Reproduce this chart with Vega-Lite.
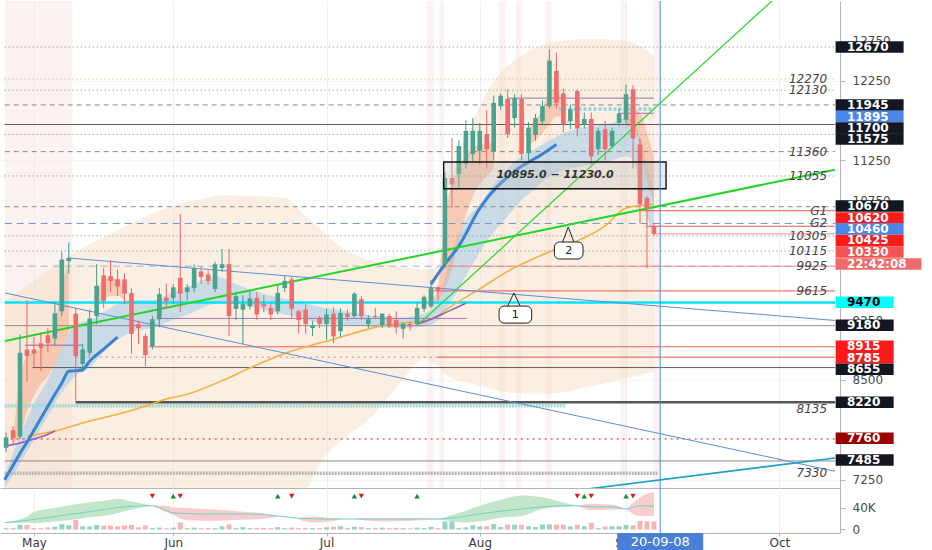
{
"$schema": "https://vega.github.io/schema/vega-lite/v6.json",
"padding": 0,
"spacing": 0,
"bounds": "flush",
"background": "white",
"config": {"view": {"stroke": null}, "axis": {"labelFont": "DejaVu Sans"}, "text": {"font": "DejaVu Sans"}},
"resolve": {"scale": {"x": "independent", "y": "independent"}, "axis": {"x": "independent", "y": "independent"}},
"datasets": {
"candles": [
{"i":-4,"o":7650,"h":7840,"l":7600,"c":7780},{"i":-3,"o":7870,"h":7920,"l":7700,"c":7770},{"i":-2,"o":7790,"h":9070,"l":7760,"c":8840},{"i":-1,"o":8880,"h":9500,"l":8480,"c":8800},
{"i":0,"o":8880,"h":9040,"l":8650,"c":8830},{"i":1,"o":8960,"h":9100,"l":8610,"c":8900},{"i":2,"o":9060,"h":9150,"l":8850,"c":8960},{"i":3,"o":9020,"h":9480,"l":8930,"c":9335},
{"i":4,"o":9360,"h":10100,"l":9300,"c":10010},{"i":5,"o":9990,"h":10220,"l":9830,"c":10030},{"i":6,"o":9330,"h":9400,"l":8220,"c":8800},{"i":7,"o":8700,"h":8950,"l":8600,"c":8880},
{"i":8,"o":8840,"h":9380,"l":8800,"c":9270},{"i":9,"o":9300,"h":9950,"l":9200,"c":9680},{"i":10,"o":9810,"h":9900,"l":9400,"c":9490},{"i":11,"o":9800,"h":10000,"l":9600,"c":9740},
{"i":12,"o":9760,"h":9880,"l":9550,"c":9670},{"i":13,"o":9760,"h":9830,"l":9450,"c":9580},{"i":14,"o":9590,"h":9650,"l":8830,"c":9075},{"i":15,"o":9200,"h":9240,"l":8950,"c":9150},
{"i":16,"o":9050,"h":9080,"l":8670,"c":8810},{"i":17,"o":8925,"h":9300,"l":8880,"c":9260},{"i":18,"o":9260,"h":9650,"l":9160,"c":9575},{"i":19,"o":9530,"h":9710,"l":9400,"c":9490},
{"i":20,"o":9530,"h":9700,"l":9450,"c":9660},{"i":21,"o":9780,"h":10580,"l":9350,"c":9580},{"i":22,"o":9600,"h":9700,"l":9500,"c":9660},{"i":23,"o":9650,"h":9950,"l":9600,"c":9900},
{"i":24,"o":9860,"h":9920,"l":9700,"c":9790},{"i":25,"o":9820,"h":9870,"l":9700,"c":9740},{"i":26,"o":9640,"h":9980,"l":9600,"c":9950},{"i":27,"o":9900,"h":10140,"l":9850,"c":9950},
{"i":28,"o":9950,"h":10140,"l":9050,"c":9300},{"i":29,"o":9390,"h":9600,"l":9250,"c":9550},{"i":30,"o":9380,"h":9560,"l":8950,"c":9450},{"i":31,"o":9420,"h":9620,"l":9380,"c":9520},
{"i":32,"o":9530,"h":9600,"l":9250,"c":9320},{"i":33,"o":9450,"h":9560,"l":9350,"c":9420},{"i":34,"o":9400,"h":9460,"l":9250,"c":9320},{"i":35,"o":9360,"h":9700,"l":9320,"c":9590},
{"i":36,"o":9650,"h":9800,"l":9600,"c":9740},{"i":37,"o":9760,"h":9800,"l":9280,"c":9390},{"i":38,"o":9360,"h":9380,"l":9080,"c":9250},{"i":39,"o":9380,"h":9450,"l":9080,"c":9200},
{"i":40,"o":9150,"h":9240,"l":9050,"c":9180},{"i":41,"o":9280,"h":9300,"l":9150,"c":9200},{"i":42,"o":9200,"h":9390,"l":9000,"c":9320},{"i":43,"o":9330,"h":9410,"l":8960,"c":9045},
{"i":44,"o":9110,"h":9400,"l":9040,"c":9340},{"i":45,"o":9330,"h":9380,"l":9240,"c":9290},{"i":46,"o":9300,"h":9600,"l":9280,"c":9580},{"i":47,"o":9510,"h":9550,"l":9250,"c":9300},
{"i":48,"o":9200,"h":9310,"l":9150,"c":9260},{"i":49,"o":9300,"h":9400,"l":9260,"c":9290},{"i":50,"o":9180,"h":9330,"l":9150,"c":9330},{"i":51,"o":9300,"h":9330,"l":9150,"c":9170},
{"i":52,"o":9250,"h":9360,"l":9080,"c":9160},{"i":53,"o":9140,"h":9220,"l":9020,"c":9200},{"i":54,"o":9200,"h":9230,"l":9120,"c":9170},{"i":55,"o":9200,"h":9470,"l":9180,"c":9400},
{"i":56,"o":9390,"h":9560,"l":9350,"c":9540},{"i":57,"o":9420,"h":9750,"l":9400,"c":9650},{"i":58,"o":9660,"h":9680,"l":9500,"c":9620},{"i":59,"o":9950,"h":11100,"l":9900,"c":11030},
{"i":60,"o":11030,"h":11530,"l":10650,"c":10950},{"i":61,"o":11080,"h":11500,"l":10900,"c":11430},{"i":62,"o":11210,"h":11750,"l":11150,"c":11620},{"i":63,"o":11330,"h":11780,"l":11240,"c":11620},
{"i":64,"o":11370,"h":11720,"l":11200,"c":11620},{"i":65,"o":11580,"h":11880,"l":11150,"c":11390},{"i":66,"o":11360,"h":12060,"l":11250,"c":11970},{"i":67,"o":11930,"h":12090,"l":11880,"c":12060},
{"i":68,"o":12020,"h":12140,"l":11530,"c":11580},{"i":69,"o":11780,"h":12080,"l":11660,"c":12030},{"i":70,"o":12020,"h":12080,"l":11250,"c":11330},{"i":71,"o":11340,"h":11730,"l":11250,"c":11660},
{"i":72,"o":11570,"h":11830,"l":11500,"c":11780},{"i":73,"o":11740,"h":12000,"l":11700,"c":11930},{"i":74,"o":11930,"h":12640,"l":11900,"c":12500},{"i":75,"o":12370,"h":12600,"l":11900,"c":11970},
{"i":76,"o":12090,"h":12150,"l":11600,"c":11700},{"i":77,"o":11740,"h":11950,"l":11640,"c":11890},{"i":78,"o":12120,"h":12140,"l":11550,"c":11650},{"i":79,"o":11700,"h":11850,"l":11650,"c":11770},
{"i":80,"o":11770,"h":11850,"l":11200,"c":11300},{"i":81,"o":11390,"h":11660,"l":11320,"c":11620},{"i":82,"o":11640,"h":11740,"l":11250,"c":11390},{"i":83,"o":11430,"h":11660,"l":11400,"c":11620},
{"i":84,"o":11720,"h":11900,"l":11680,"c":11840},{"i":85,"o":11760,"h":12200,"l":11700,"c":12080},{"i":86,"o":12140,"h":12190,"l":11150,"c":11525},{"i":87,"o":11450,"h":11520,"l":10460,"c":10700},
{"i":88,"o":10780,"h":10800,"l":9900,"c":10650},{"i":89,"o":10425,"h":10460,"l":10300,"c":10330}
],
"vol": [
{"i":-4,"v":2.5,"d":"u"},{"i":-3,"v":3,"d":"d"},{"i":-2,"v":8.5,"d":"u"},{"i":-1,"v":8.5,"d":"d"},{"i":0,"v":2.5,"d":"d"},{"i":1,"v":2.5,"d":"d"},{"i":2,"v":4,"d":"d"},{"i":3,"v":5,"d":"u"},
{"i":4,"v":10,"d":"u"},{"i":5,"v":8,"d":"u"},{"i":6,"v":18,"d":"d"},{"i":7,"v":6,"d":"u"},{"i":8,"v":5.5,"d":"u"},{"i":9,"v":8.5,"d":"u"},{"i":10,"v":7,"d":"d"},{"i":11,"v":7,"d":"d"},
{"i":12,"v":6,"d":"d"},{"i":13,"v":7.5,"d":"d"},{"i":14,"v":8.5,"d":"d"},{"i":15,"v":4,"d":"d"},{"i":16,"v":7.5,"d":"d"},{"i":17,"v":2.5,"d":"u"},{"i":18,"v":3.5,"d":"u"},{"i":19,"v":2,"d":"d"},
{"i":20,"v":3.5,"d":"u"},{"i":21,"v":13,"d":"d"},{"i":22,"v":2.5,"d":"u"},{"i":23,"v":3.5,"d":"u"},{"i":24,"v":2.5,"d":"d"},{"i":25,"v":3,"d":"d"},{"i":26,"v":2.5,"d":"u"},{"i":27,"v":6,"d":"u"},
{"i":28,"v":9.5,"d":"d"},{"i":29,"v":2.5,"d":"u"},{"i":30,"v":4.5,"d":"u"},{"i":31,"v":2.5,"d":"u"},{"i":32,"v":3,"d":"d"},{"i":33,"v":3,"d":"d"},{"i":34,"v":2.5,"d":"d"},{"i":35,"v":4.5,"d":"u"},
{"i":36,"v":2.5,"d":"u"},{"i":37,"v":3.5,"d":"d"},{"i":38,"v":2.5,"d":"d"},{"i":39,"v":3,"d":"d"},{"i":40,"v":2.5,"d":"u"},{"i":41,"v":2.5,"d":"d"},{"i":42,"v":4,"d":"u"},{"i":43,"v":5,"d":"d"},
{"i":44,"v":6,"d":"u"},{"i":45,"v":3,"d":"d"},{"i":46,"v":5,"d":"u"},{"i":47,"v":4.5,"d":"d"},{"i":48,"v":2.5,"d":"u"},{"i":49,"v":3,"d":"d"},{"i":50,"v":3.5,"d":"u"},{"i":51,"v":2.5,"d":"d"},
{"i":52,"v":3,"d":"d"},{"i":53,"v":2.5,"d":"u"},{"i":54,"v":2,"d":"d"},{"i":55,"v":3.5,"d":"u"},{"i":56,"v":2.5,"d":"u"},{"i":57,"v":5,"d":"u"},{"i":58,"v":2.5,"d":"d"},{"i":59,"v":15,"d":"u"},
{"i":60,"v":15,"d":"u"},{"i":61,"v":3,"d":"u"},{"i":62,"v":4,"d":"u"},{"i":63,"v":8,"d":"u"},{"i":64,"v":5.5,"d":"u"},{"i":65,"v":6,"d":"d"},{"i":66,"v":10,"d":"u"},{"i":67,"v":4.5,"d":"u"},
{"i":68,"v":9,"d":"d"},{"i":69,"v":9,"d":"u"},{"i":70,"v":9,"d":"d"},{"i":71,"v":6,"d":"u"},{"i":72,"v":4.5,"d":"u"},{"i":73,"v":9,"d":"u"},{"i":74,"v":9.5,"d":"u"},{"i":75,"v":9,"d":"d"},
{"i":76,"v":9,"d":"d"},{"i":77,"v":5.5,"d":"u"},{"i":78,"v":8.5,"d":"d"},{"i":79,"v":6,"d":"u"},{"i":80,"v":12.5,"d":"d"},{"i":81,"v":2.5,"d":"u"},{"i":82,"v":5.5,"d":"d"},{"i":83,"v":6,"d":"u"},
{"i":84,"v":6,"d":"u"},{"i":85,"v":8.5,"d":"u"},{"i":86,"v":8,"d":"d"},{"i":87,"v":16,"d":"d"},{"i":88,"v":15,"d":"d"},{"i":89,"v":15,"d":"d"}
],
"beige": [
{"i":-4.2,"lo":7146,"hi":9490},{"i":0,"lo":7146,"hi":9740},{"i":5,"lo":7146,"hi":10050},{"i":11,"lo":7146,"hi":10330},{"i":20,"lo":7146,"hi":10680},{"i":24,"lo":7146,"hi":10765},
{"i":27,"lo":7146,"hi":10815},{"i":36,"lo":7146,"hi":10780},{"i":39,"lo":7146,"hi":10550},{"i":41,"lo":7450,"hi":10400},{"i":45,"lo":7800,"hi":10110},{"i":48,"lo":8000,"hi":10000},
{"i":52,"lo":8400,"hi":9930},{"i":56.4,"lo":8770,"hi":9880},{"i":58,"lo":8650,"hi":9930},{"i":60,"lo":8520,"hi":10990},{"i":63,"lo":8450,"hi":11740},{"i":66,"lo":8380,"hi":12240},
{"i":70,"lo":8330,"hi":12560},{"i":74,"lo":8330,"hi":12720},{"i":80,"lo":8420,"hi":12770},{"i":85,"lo":8520,"hi":12745},{"i":89,"lo":8610,"hi":12560}
],
"blueband": [
{"i":-4.2,"lo":7146,"hi":7300},{"i":-2,"lo":7450,"hi":7800},{"i":0,"lo":7750,"hi":8200},{"i":2,"lo":8050,"hi":8500},{"i":4,"lo":8350,"hi":8900},{"i":6,"lo":8550,"hi":9200},
{"i":8,"lo":8650,"hi":9250},{"i":10,"lo":8850,"hi":9350},{"i":12,"lo":9000,"hi":9450},{"i":14,"lo":9100,"hi":9500},{"i":17,"lo":9150,"hi":9500},{"i":20,"lo":9250,"hi":9600},
{"i":23,"lo":9350,"hi":9700},{"i":26,"lo":9450,"hi":9800},{"i":29,"lo":9450,"hi":9700},{"i":33,"lo":9380,"hi":9580},{"i":37,"lo":9300,"hi":9500},{"i":42,"lo":9200,"hi":9400},
{"i":47,"lo":9180,"hi":9330},{"i":52,"lo":9150,"hi":9280},{"i":56,"lo":9170,"hi":9330},{"i":58,"lo":9250,"hi":9500},{"i":60,"lo":9500,"hi":10100},{"i":62,"lo":9800,"hi":10500},
{"i":64,"lo":10100,"hi":10700},{"i":66,"lo":10350,"hi":10950},{"i":68,"lo":10550,"hi":11150},{"i":70,"lo":10750,"hi":11300},{"i":72,"lo":10900,"hi":11400},{"i":74,"lo":11050,"hi":11500},
{"i":77,"lo":11150,"hi":11620},{"i":80,"lo":11200,"hi":11680},{"i":83,"lo":11250,"hi":11720},{"i":85,"lo":11300,"hi":11780},{"i":86,"lo":11250,"hi":11750},{"i":87,"lo":10950,"hi":11550},
{"i":88,"lo":10550,"hi":11200},{"i":89,"lo":10350,"hi":10850}
],
"salmon": [
{"g":"A","i":-3,"lo":7720,"hi":7760},{"g":"A","i":-2,"lo":7800,"hi":8500},{"g":"A","i":-1,"lo":8100,"hi":8800},{"g":"A","i":0,"lo":8300,"hi":8850},{"g":"A","i":1,"lo":8450,"hi":8900},
{"g":"A","i":2,"lo":8550,"hi":8950},{"g":"A","i":3,"lo":8700,"hi":9200},{"g":"A","i":4,"lo":8900,"hi":9700},{"g":"A","i":5,"lo":9100,"hi":9950},
{"g":"B","i":9,"lo":9400,"hi":9600},{"g":"B","i":10,"lo":9500,"hi":9750},{"g":"B","i":11,"lo":9550,"hi":9780},{"g":"B","i":12,"lo":9550,"hi":9750},{"g":"B","i":13,"lo":9500,"hi":9650},
{"g":"C","i":57,"lo":9400,"hi":9500},{"g":"C","i":58,"lo":9500,"hi":9650},{"g":"C","i":59,"lo":9650,"hi":10600},{"g":"C","i":60,"lo":9900,"hi":10950},{"g":"C","i":61,"lo":10250,"hi":11150},
{"g":"C","i":62,"lo":10550,"hi":11300},{"g":"C","i":63,"lo":10800,"hi":11400},{"g":"C","i":64,"lo":10950,"hi":11450},{"g":"C","i":65,"lo":11050,"hi":11450},{"g":"C","i":66,"lo":11150,"hi":11500},
{"g":"D","i":71,"lo":11450,"hi":11650},{"g":"D","i":72,"lo":11500,"hi":11750},{"g":"D","i":73,"lo":11600,"hi":11900},{"g":"D","i":74,"lo":11700,"hi":12100},{"g":"D","i":75,"lo":11800,"hi":12150},{"g":"D","i":76,"lo":11800,"hi":11950},
{"g":"E","i":85,"lo":11650,"hi":11800},{"g":"E","i":86,"lo":11700,"hi":11900},{"g":"E","i":87,"lo":11400,"hi":11850},{"g":"E","i":88,"lo":11000,"hi":11600},{"g":"E","i":89,"lo":10700,"hi":11300}
],
"stripes": [{"a":-4.2,"b":5.5},{"a":56.4,"b":57.4},{"a":58.2,"b":58.9},{"a":66.8,"b":67.6},{"a":69.2,"b":69.9},{"a":73.5,"b":74.3},{"a":84.2,"b":85.1},{"a":88.9,"b":90}],
"bluethick": [
{"g":"a","i":-4.2,"v":7250},{"g":"a","i":-4,"v":7280},{"g":"a","i":-3,"v":7430},{"g":"a","i":-2,"v":7580},{"g":"a","i":-1,"v":7720},{"g":"a","i":0,"v":7870},{"g":"a","i":1,"v":8020},
{"g":"a","i":2,"v":8170},{"g":"a","i":3,"v":8320},{"g":"a","i":4,"v":8460},{"g":"a","i":5,"v":8610},{"g":"a","i":6,"v":8615},{"g":"a","i":7,"v":8630},{"g":"a","i":8,"v":8735},
{"g":"a","i":10,"v":8885},{"g":"a","i":12,"v":9035},
{"g":"b","i":57,"v":9700},{"g":"b","i":59,"v":9950},{"g":"b","i":61,"v":10180},{"g":"b","i":64,"v":10650},{"g":"b","i":69,"v":11115},{"g":"b","i":73,"v":11330},{"g":"b","i":75,"v":11450}
],
"orangema": [
{"i":-1,"v":7795},{"i":3,"v":7860},{"i":8,"v":7985},{"i":12,"v":8070},{"i":16,"v":8170},{"i":19,"v":8260},{"i":22,"v":8320},{"i":27,"v":8490},{"i":31,"v":8650},
{"i":36,"v":8830},{"i":43,"v":9010},{"i":50,"v":9180},{"i":57,"v":9260},{"i":60,"v":9430},{"i":64,"v":9640},{"i":68,"v":9860},{"i":71,"v":9990},{"i":75,"v":10140},
{"i":78,"v":10240},{"i":82,"v":10430},{"i":85,"v":10655},{"i":89,"v":10700}
],
"purplema": [
{"g":"a","i":-4.2,"v":7670},{"g":"a","i":-2,"v":7710},{"g":"a","i":0,"v":7760},{"g":"a","i":2,"v":7820},{"g":"a","i":3,"v":7860},
{"g":"b","i":55,"v":9200},{"g":"b","i":57,"v":9260},{"g":"b","i":59,"v":9340},{"g":"b","i":61,"v":9420},{"g":"b","i":62,"v":9460}
],
"levels": [
{"p":12670,"a":-4.2,"b":115,"s":"dotGray"},{"p":12270,"a":-4.2,"b":115,"s":"dotOrange"},{"p":12130,"a":-4.2,"b":115,"s":"dotGreen"},{"p":12030,"a":68,"b":89,"s":"purple"},
{"p":11945,"a":-4.2,"b":115,"s":"dashGray"},{"p":11895,"a":75.3,"b":89,"s":"dashBlueThick"},{"p":11840,"a":84,"b":89,"s":"magenta"},{"p":11700,"a":-4.2,"b":115,"s":"solidBlack"},{"p":11575,"a":-4.2,"b":115,"s":"dotGray"},
{"p":11360,"a":-4.2,"b":115,"s":"dashGray"},{"p":11055,"a":-4.2,"b":115,"s":"dotGreen"},{"p":10670,"a":-4.2,"b":115,"s":"dashGray"},{"p":10620,"a":87,"b":115,"s":"solidRed"},
{"p":10460,"a":-4.2,"b":115,"s":"dashBlue"},{"p":10425,"a":88,"b":115,"s":"solidRed"},{"p":10330,"a":89,"b":115,"s":"lightRed"},{"p":10305,"a":-4.2,"b":115,"s":"dotGray"},
{"p":10115,"a":-4.2,"b":115,"s":"dotGreen"},{"p":9925,"a":-4.2,"b":115,"s":"dashLightBlue"},{"p":9925,"a":59,"b":115,"s":"lightRed"},{"p":9615,"a":57,"b":115,"s":"solidRed"},
{"p":9470,"a":-4.2,"b":115,"s":"cyan"},{"p":9270,"a":17.6,"b":62.1,"s":"purple"},{"p":9180,"a":-4.2,"b":115,"s":"solidGray"},{"p":8935,"a":-1.3,"b":6.9,"s":"purple"},
{"p":8915,"a":16.5,"b":115,"s":"solidRed"},{"p":8785,"a":6,"b":58,"s":"dotRed"},{"p":8785,"a":58,"b":115,"s":"solidRed"},{"p":8655,"a":-0.2,"b":115,"s":"solidBlack"},
{"p":8220,"a":6,"b":115,"s":"thickGray"},{"p":8175,"a":-4.2,"b":76.4,"s":"bandTeal"},{"p":7760,"a":-4.2,"b":115,"s":"dotDarkRed"},{"p":7485,"a":-4.2,"b":115,"s":"solidGray"},
{"p":7330,"a":-4.2,"b":89.5,"s":"bandGray"}
],
"trends": [
{"t":"g1","k":0,"i":-4.156,"p":8988},{"t":"g1","k":1,"i":114.99,"p":11133},
{"t":"g2","k":0,"i":55.42,"p":9213},{"t":"g2","k":1,"i":109.3,"p":13516},
{"t":"b1","k":0,"i":4.92,"p":10027},{"t":"b1","k":1,"i":114.99,"p":9245},
{"t":"b2","k":0,"i":-4.156,"p":9589},{"t":"b2","k":1,"i":114.99,"p":7356},
{"t":"tl","k":0,"i":79.5,"p":7134},{"t":"tl","k":1,"i":114.99,"p":7522}
],
"zone": [{"a":58.82,"b":90.74,"lo":10895,"hi":11230,"m":74.8,"mp":11062,"t":"10895.0 − 11230.0"}],
"callouts": [{"n":"1","a":66.77,"b":71.45,"lo":9212,"hi":9425,"cx":69.1,"cy":9318},{"n":"2","a":74.71,"b":78.82,"lo":10015,"hi":10228,"cx":76.76,"cy":10121}],
"pointers": [
{"n":"1","k":0,"i":68.0,"p":9425},{"n":"1","k":1,"i":68.9,"p":9590},{"n":"1","k":2,"i":69.8,"p":9425},
{"n":"2","k":0,"i":75.9,"p":10228},{"n":"2","k":1,"i":76.7,"p":10416},{"n":"2","k":2,"i":77.5,"p":10228}
],
"notes": [
{"p":12270,"t":"12270"},{"p":12130,"t":"12130"},{"p":11360,"t":"11360"},{"p":11055,"t":"11055"},{"p":10620,"t":"G1"},{"p":10460,"t":"G2"},
{"p":10305,"t":"10305"},{"p":10115,"t":"10115"},{"p":9925,"t":"9925"},{"p":9615,"t":"9615"},{"p":8135,"t":"8135"},{"p":7330,"t":"7330"}
],
"tags": [
{"at":12670,"label":"12670","k":"black"},{"at":11945,"label":"11945","k":"black"},{"at":11800,"label":"11895","k":"blue"},{"at":11656,"label":"11700","k":"black"},
{"at":11518,"label":"11575","k":"black"},{"at":10679,"label":"10670","k":"black"},{"at":10528,"label":"10620","k":"red"},{"at":10390,"label":"10460","k":"blue"},
{"at":10247,"label":"10425","k":"red"},{"at":10103,"label":"10330","k":"lightred"},{"at":9952,"label":"22:42:08","k":"count"},{"at":9472,"label":"9470","k":"cyan"},
{"at":9185,"label":"9180","k":"black"},{"at":8921,"label":"8915","k":"red"},{"at":8779,"label":"8785","k":"red"},{"at":8633,"label":"8655","k":"black"},
{"at":8220,"label":"8220","k":"black"},{"at":7769,"label":"7760","k":"darkred"},{"at":7497,"label":"7485","k":"black"}
],
"cursor": [{"i":89.9,"t":"20-09-08"}],
"cloud": [
{"g":"g1","c":"g","i":-4.2,"lo":12,"hi":13.5},{"g":"g1","c":"g","i":-1,"lo":13,"hi":24},{"g":"g1","c":"g","i":0,"lo":12,"hi":33},{"g":"g1","c":"g","i":3,"lo":15,"hi":40},
{"g":"g1","c":"g","i":6,"lo":19,"hi":47},{"g":"g1","c":"g","i":9,"lo":24,"hi":52},{"g":"g1","c":"g","i":10,"lo":25,"hi":53},{"g":"g1","c":"g","i":12,"lo":30,"hi":57},
{"g":"g1","c":"g","i":14,"lo":37,"hi":52},{"g":"g1","c":"g","i":16,"lo":42,"hi":47},{"g":"g1","c":"g","i":17,"lo":44,"hi":44},
{"g":"r1","c":"r","i":17,"lo":44,"hi":44},{"g":"r1","c":"r","i":19,"lo":32,"hi":44},{"g":"r1","c":"r","i":20,"lo":27,"hi":41},{"g":"r1","c":"r","i":22,"lo":17,"hi":40},
{"g":"r1","c":"r","i":26,"lo":16,"hi":37},{"g":"r1","c":"r","i":30,"lo":18,"hi":33},{"g":"r1","c":"r","i":33,"lo":20,"hi":30},{"g":"r1","c":"r","i":35,"lo":24,"hi":25},
{"g":"r2","c":"r","i":38,"lo":19,"hi":21},{"g":"r2","c":"r","i":40,"lo":13,"hi":24},{"g":"r2","c":"r","i":42,"lo":14,"hi":22},{"g":"r2","c":"r","i":44,"lo":18,"hi":21},
{"g":"r3","c":"r","i":46,"lo":19,"hi":20},{"g":"r3","c":"r","i":50,"lo":15,"hi":22},{"g":"r3","c":"r","i":54,"lo":16,"hi":21},{"g":"r3","c":"r","i":58,"lo":18.5,"hi":20},
{"g":"g2","c":"g","i":58,"lo":19.5,"hi":19.5},{"g":"g2","c":"g","i":60,"lo":15,"hi":27},{"g":"g2","c":"g","i":62,"lo":13,"hi":35},{"g":"g2","c":"g","i":64,"lo":15,"hi":44},
{"g":"g2","c":"g","i":67,"lo":22,"hi":55},{"g":"g2","c":"g","i":70,"lo":25,"hi":63},{"g":"g2","c":"g","i":73,"lo":38,"hi":60},{"g":"g2","c":"g","i":76,"lo":42,"hi":50},
{"g":"g2","c":"g","i":78,"lo":44,"hi":44},
{"g":"r4","c":"r","i":78,"lo":44,"hi":44},{"g":"r4","c":"r","i":80,"lo":36,"hi":48},{"g":"r4","c":"r","i":83,"lo":37,"hi":46},{"g":"r4","c":"r","i":85,"lo":38,"hi":38},
{"g":"r5","c":"r","i":85,"lo":38,"hi":38},{"g":"r5","c":"r","i":87,"lo":25,"hi":60},{"g":"r5","c":"r","i":89,"lo":25,"hi":70}
],
"cmid": [
{"i":-4.2,"v":12.6},{"i":-1,"v":17},{"i":2,"v":22},{"i":5,"v":28},{"i":8,"v":33},{"i":10,"v":37},{"i":13,"v":42},{"i":16,"v":44},{"i":17,"v":44},{"i":19,"v":35},
{"i":20,"v":31},{"i":24,"v":29},{"i":30,"v":29},{"i":35,"v":25},{"i":38,"v":21},{"i":42,"v":19.5},{"i":50,"v":19.5},{"i":58,"v":19.5},{"i":61,"v":23},{"i":64,"v":29},
{"i":67,"v":34},{"i":70,"v":38},{"i":73,"v":42},{"i":76,"v":44},{"i":78,"v":44},{"i":80,"v":42},{"i":83,"v":42},{"i":85,"v":38},{"i":87,"v":44},{"i":89,"v":43}
],
"marks": [
{"i":17,"t":"dn"},{"i":20,"t":"up"},{"i":21,"t":"dn"},{"i":35,"t":"up"},{"i":37,"t":"dn"},{"i":46,"t":"up"},{"i":47,"t":"dn"},{"i":55,"t":"up"},
{"i":78,"t":"dn"},{"i":79,"t":"up"},{"i":80,"t":"dn"},{"i":85,"t":"up"},{"i":86,"t":"dn"}
]
},
"vconcat": [
{
"width": 840, "height": 487,
"layer": [
{"data": {"name": "stripes"}, "mark": {"type": "rect", "clip": true, "color": "#f9dede", "opacity": 0.4},
 "encoding": {
  "x": {"field": "a", "type": "quantitative", "scale": {"domain": [-4.156, 114.993], "nice": false, "zero": false},
        "axis": {"values": [0,20,42,64,85,107], "labels": false, "ticks": false, "domain": true, "domainColor": "#b2b5be", "grid": true, "gridColor": "#edf0f5", "title": null}},
  "x2": {"field": "b"},
  "y": {"datum": 7146, "type": "quantitative", "scale": {"domain": [7146, 13247], "nice": false, "zero": false},
        "axis": {"orient": "right", "values": [7250,8000,8500,9000,9250,9750,10750,11000,11250,12000,12250,12500,12750,13000],
                 "format": "d", "title": null, "labelFontSize": 12, "labelColor": "#4a4a4a", "tickColor": "#b2b5be", "tickSize": 5, "labelPadding": 7,
                 "domainColor": "#b2b5be", "grid": true, "gridColor": "#f5f6f8", "labelOverlap": false}},
  "y2": {"datum": 13247}
 }},
{"data": {"name": "beige"}, "mark": {"type": "area", "clip": true, "color": "#f3d9b9", "opacity": 0.42, "interpolate": "monotone"},
 "encoding": {"x": {"field": "i", "type": "quantitative"}, "y": {"field": "lo", "type": "quantitative"}, "y2": {"field": "hi"}}},
{"data": {"name": "blueband"}, "mark": {"type": "area", "clip": true, "color": "#a9cdea", "opacity": 0.6, "interpolate": "monotone"},
 "encoding": {"x": {"field": "i", "type": "quantitative"}, "y": {"field": "lo", "type": "quantitative"}, "y2": {"field": "hi"}}},
{"data": {"name": "salmon"}, "mark": {"type": "area", "clip": true, "color": "#f3a07a", "opacity": 0.45, "interpolate": "monotone"},
 "encoding": {"x": {"field": "i", "type": "quantitative"}, "y": {"field": "lo", "type": "quantitative"}, "y2": {"field": "hi"}, "detail": {"field": "g"}}},
{"data": {"name": "levels"}, "transform": [{"filter": "datum.s != 'dashBlueThick' && datum.s != 'cyan' && datum.s != 'thickGray' && datum.s != 'bandTeal' && datum.s != 'bandGray'"}],
 "mark": {"type": "rule", "clip": true, "strokeWidth": 1},
 "encoding": {"x": {"field": "a", "type": "quantitative"}, "x2": {"field": "b"}, "y": {"field": "p", "type": "quantitative"},
  "stroke": {"field": "s", "type": "nominal", "legend": null, "scale": {"domain": ["dotGray","dotOrange","dotGreen","dashGray","dashBlueThick","solidBlack","solidRed","lightRed","dashBlue","dashLightBlue","cyan","purple","solidGray","dotRed","thickGray","bandTeal","dotDarkRed","bandGray","magenta"],
    "range": ["#7a7a7a","#e8a838","#2fa36b","#8a8a8a","#8fd3ea","#333333","#ef5350","#f28b82","#6b96d6","#9fb3cc","#00e5ff","#8e5ea2","#7d7d7d","#e57373","#555555","#9ed9d6","#c62828","#b5b5b5","#d052c8"]}},
  "strokeDash": {"field": "s", "type": "nominal", "legend": null, "scale": {"domain": ["dotGray","dotOrange","dotGreen","dashGray","dashBlueThick","solidBlack","solidRed","lightRed","dashBlue","dashLightBlue","cyan","purple","solidGray","dotRed","thickGray","bandTeal","dotDarkRed","bandGray","magenta"],
    "range": [[1,3],[1,3],[1,3],[5,4],[3,2],[1,0],[1,0],[1,0],[7,5],[7,5],[1,0],[1,0],[1,0],[2,4],[1,0],[2,1],[2,4],[2,1],[1,0]]}}}},
{"data": {"name": "levels"}, "transform": [{"filter": "datum.s == 'cyan' || datum.s == 'thickGray'"}],
 "mark": {"type": "rule", "clip": true, "strokeWidth": 2.3},
 "encoding": {"x": {"field": "a", "type": "quantitative"}, "x2": {"field": "b"}, "y": {"field": "p", "type": "quantitative"},
  "stroke": {"field": "s", "type": "nominal", "legend": null}, "strokeDash": {"field": "s", "type": "nominal", "legend": null}}},
{"data": {"name": "levels"}, "transform": [{"filter": "datum.s == 'dashBlueThick' || datum.s == 'bandTeal' || datum.s == 'bandGray'"}],
 "mark": {"type": "rule", "clip": true, "strokeWidth": 3.5},
 "encoding": {"x": {"field": "a", "type": "quantitative"}, "x2": {"field": "b"}, "y": {"field": "p", "type": "quantitative"},
  "stroke": {"field": "s", "type": "nominal", "legend": null}, "strokeDash": {"field": "s", "type": "nominal", "legend": null}}},
{"data": {"name": "orangema"}, "mark": {"type": "line", "clip": true, "color": "#f5b041", "strokeWidth": 1.6, "interpolate": "monotone"},
 "encoding": {"x": {"field": "i", "type": "quantitative"}, "y": {"field": "v", "type": "quantitative"}}},
{"data": {"name": "purplema"}, "mark": {"type": "line", "clip": true, "color": "#9b59b6", "strokeWidth": 1.6, "interpolate": "monotone"},
 "encoding": {"x": {"field": "i", "type": "quantitative"}, "y": {"field": "v", "type": "quantitative"}, "detail": {"field": "g"}}},
{"data": {"name": "bluethick"}, "mark": {"type": "line", "clip": true, "color": "#3b82d0", "strokeWidth": 3, "interpolate": "monotone"},
 "encoding": {"x": {"field": "i", "type": "quantitative"}, "y": {"field": "v", "type": "quantitative"}, "detail": {"field": "g"}}},
{"data": {"name": "trends"}, "transform": [{"filter": "datum.t == 'g1'"}], "mark": {"type": "line", "clip": true, "color": "#22d622", "strokeWidth": 2},
 "encoding": {"x": {"field": "i", "type": "quantitative"}, "y": {"field": "p", "type": "quantitative"}, "order": {"field": "k"}}},
{"data": {"name": "trends"}, "transform": [{"filter": "datum.t == 'g2'"}], "mark": {"type": "line", "clip": true, "color": "#33d633", "strokeWidth": 1.3},
 "encoding": {"x": {"field": "i", "type": "quantitative"}, "y": {"field": "p", "type": "quantitative"}, "order": {"field": "k"}}},
{"data": {"name": "trends"}, "transform": [{"filter": "datum.t == 'b1' || datum.t == 'b2'"}], "mark": {"type": "line", "clip": true, "color": "#5b8fd9", "strokeWidth": 1},
 "encoding": {"x": {"field": "i", "type": "quantitative"}, "y": {"field": "p", "type": "quantitative"}, "detail": {"field": "t"}, "order": {"field": "k"}}},
{"data": {"name": "trends"}, "transform": [{"filter": "datum.t == 'tl'"}], "mark": {"type": "line", "clip": true, "color": "#1a9fc8", "strokeWidth": 1.6},
 "encoding": {"x": {"field": "i", "type": "quantitative"}, "y": {"field": "p", "type": "quantitative"}, "order": {"field": "k"}}},
{"data": {"name": "candles"}, "mark": {"type": "rule", "clip": true, "strokeWidth": 1},
 "encoding": {"x": {"field": "i", "type": "quantitative"}, "y": {"field": "l", "type": "quantitative"}, "y2": {"field": "h"},
  "color": {"condition": {"test": "datum.c >= datum.o", "value": "#3d9e88"}, "value": "#ee6262"}}},
{"data": {"name": "candles"}, "mark": {"type": "bar", "clip": true, "width": 4.6},
 "encoding": {"x": {"field": "i", "type": "quantitative"}, "y": {"field": "o", "type": "quantitative"}, "y2": {"field": "c"},
  "color": {"condition": {"test": "datum.c >= datum.o", "value": "#4aa38e"}, "value": "#f06c6c"}}},
{"data": {"name": "zone"}, "mark": {"type": "rect", "clip": true, "fill": "#bdbdbd", "fillOpacity": 0.3, "stroke": "#111111", "strokeWidth": 1.4},
 "encoding": {"x": {"field": "a", "type": "quantitative"}, "x2": {"field": "b"}, "y": {"field": "lo", "type": "quantitative"}, "y2": {"field": "hi"}}},
{"data": {"name": "zone"}, "mark": {"type": "text", "fontSize": 11, "fontStyle": "italic", "fontWeight": "bold", "color": "#333333"},
 "encoding": {"x": {"field": "m", "type": "quantitative"}, "y": {"field": "mp", "type": "quantitative"}, "text": {"field": "t"}}},
{"data": {"name": "pointers"}, "mark": {"type": "line", "clip": true, "color": "#222222", "strokeWidth": 1},
 "encoding": {"x": {"field": "i", "type": "quantitative"}, "y": {"field": "p", "type": "quantitative"}, "detail": {"field": "n"}, "order": {"field": "k"}}},
{"data": {"name": "callouts"}, "mark": {"type": "rect", "clip": true, "fill": "white", "stroke": "#222222", "strokeWidth": 1, "cornerRadius": 5},
 "encoding": {"x": {"field": "a", "type": "quantitative"}, "x2": {"field": "b"}, "y": {"field": "lo", "type": "quantitative"}, "y2": {"field": "hi"}}},
{"data": {"name": "callouts"}, "mark": {"type": "text", "fontSize": 11, "color": "#222222"},
 "encoding": {"x": {"field": "cx", "type": "quantitative"}, "y": {"field": "cy", "type": "quantitative"}, "text": {"field": "n"}}},
{"data": {"name": "notes"}, "mark": {"type": "text", "align": "right", "baseline": "middle", "fontSize": 12, "fontStyle": "italic", "color": "#444444"},
 "encoding": {"x": {"datum": 113.86, "type": "quantitative"}, "y": {"field": "p", "type": "quantitative"}, "text": {"field": "t"}}},
{"data": {"name": "cursor"}, "mark": {"type": "rule", "color": "#4a90e2", "strokeWidth": 1},
 "encoding": {"x": {"field": "i", "type": "quantitative"}}},
{"data": {"name": "tags"}, "transform": [{"filter": "length(datum.label) == 5"}], "mark": {"type": "tick", "orient": "horizontal", "size": 68, "thickness": 11.5, "opacity": 1},
 "encoding": {"x": {"datum": 119.96, "type": "quantitative"}, "y": {"field": "at", "type": "quantitative"},
  "fill": {"field": "k", "type": "nominal", "legend": null, "scale": {"domain": ["black","blue","red","lightred","count","cyan","darkred"], "range": ["#131722","#4a86e8","#ff1a1a","#f05454","#ef6a6a","#00ffff","#990000"]}}}},
{"data": {"name": "tags"}, "transform": [{"filter": "length(datum.label) == 4"}], "mark": {"type": "tick", "orient": "horizontal", "size": 58, "thickness": 11.5, "opacity": 1},
 "encoding": {"x": {"datum": 119.25, "type": "quantitative"}, "y": {"field": "at", "type": "quantitative"}, "fill": {"field": "k", "type": "nominal", "legend": null}}},
{"data": {"name": "tags"}, "transform": [{"filter": "length(datum.label) == 8"}], "mark": {"type": "tick", "orient": "horizontal", "size": 86, "thickness": 11.5, "opacity": 1},
 "encoding": {"x": {"datum": 121.23, "type": "quantitative"}, "y": {"field": "at", "type": "quantitative"}, "fill": {"field": "k", "type": "nominal", "legend": null}}},
{"data": {"name": "tags"}, "mark": {"type": "text", "align": "left", "baseline": "middle", "fontSize": 12, "fontWeight": "bold"},
 "encoding": {"x": {"datum": 116.7, "type": "quantitative"}, "y": {"field": "at", "type": "quantitative"}, "text": {"field": "label"},
  "color": {"condition": {"test": "datum.k == 'cyan'", "value": "#000000"}, "value": "#ffffff"}}}
]
},
{
"width": 840, "height": 45,
"layer": [
{"data": {"name": "cloud"}, "transform": [{"filter": "datum.c == 'g'"}], "mark": {"type": "area", "clip": true, "color": "#b9e2c2", "opacity": 0.85, "interpolate": "monotone"},
 "encoding": {
  "x": {"field": "i", "type": "quantitative", "scale": {"domain": [-4.156, 114.993], "nice": false, "zero": false},
        "axis": {"values": [0,20,42,64,85,107], "labelExpr": "datum.value == 0 ? 'May' : datum.value == 20 ? 'Jun' : datum.value == 42 ? 'Jul' : datum.value == 64 ? 'Aug' : datum.value == 85 ? 'Sep' : 'Oct'",
                 "labelFontSize": 12, "labelColor": "#3a3a3a", "tickColor": "#b2b5be", "tickSize": 3, "labelPadding": 1, "domainColor": "#b2b5be",
                 "grid": true, "gridColor": "#edf0f5", "title": null, "labelFlush": false}},
  "y": {"field": "lo", "type": "quantitative", "scale": {"domain": [-6.5, 77], "nice": false, "zero": false},
        "axis": {"orient": "right", "values": [0, 40], "labelExpr": "datum.value == 0 ? '0' : '40K'", "title": null, "labelFontSize": 12, "labelColor": "#4a4a4a",
                 "tickColor": "#b2b5be", "tickSize": 5, "labelPadding": 7, "domainColor": "#b2b5be", "grid": false}},
  "y2": {"field": "hi"}, "detail": {"field": "g"}}},
{"data": {"name": "cloud"}, "transform": [{"filter": "datum.c == 'r'"}], "mark": {"type": "area", "clip": true, "color": "#f9c6c6", "opacity": 0.85, "interpolate": "monotone"},
 "encoding": {"x": {"field": "i", "type": "quantitative"}, "y": {"field": "lo", "type": "quantitative"}, "y2": {"field": "hi"}, "detail": {"field": "g"}}},
{"data": {"name": "cmid"}, "mark": {"type": "line", "clip": true, "color": "#72d3bf", "strokeWidth": 1, "interpolate": "monotone"},
 "encoding": {"x": {"field": "i", "type": "quantitative"}, "y": {"field": "v", "type": "quantitative"}}},
{"data": {"name": "vol"}, "mark": {"type": "bar", "clip": true, "width": 5},
 "encoding": {"x": {"field": "i", "type": "quantitative"}, "y": {"field": "v", "type": "quantitative"}, "y2": {"datum": 0},
  "color": {"condition": {"test": "datum.d == 'u'", "value": "#93d3c3"}, "value": "#f7b4b4"}}},
{"data": {"name": "marks"}, "mark": {"type": "point", "filled": true, "size": 30, "opacity": 1},
 "encoding": {"x": {"field": "i", "type": "quantitative"}, "y": {"datum": 62, "type": "quantitative"},
  "shape": {"field": "t", "type": "nominal", "legend": null, "scale": {"domain": ["up","dn"], "range": ["triangle-up","triangle-down"]}},
  "color": {"condition": {"test": "datum.t == 'up'", "value": "#1a8a35"}, "value": "#e01b1b"}}},
{"data": {"name": "cursor"}, "mark": {"type": "rule", "color": "#4a90e2", "strokeWidth": 1},
 "encoding": {"x": {"field": "i", "type": "quantitative"}}},
{"data": {"name": "cursor"}, "mark": {"type": "tick", "orient": "horizontal", "size": 86, "thickness": 18, "color": "#4a7fd6", "opacity": 1},
 "encoding": {"x": {"field": "i", "type": "quantitative"}, "y": {"datum": -23.2, "type": "quantitative"}}},
{"data": {"name": "cursor"}, "mark": {"type": "text", "fontSize": 13, "color": "#ffffff", "baseline": "middle"},
 "encoding": {"x": {"field": "i", "type": "quantitative"}, "y": {"datum": -23.2, "type": "quantitative"}, "text": {"field": "t"}}}
]
}
]
}
